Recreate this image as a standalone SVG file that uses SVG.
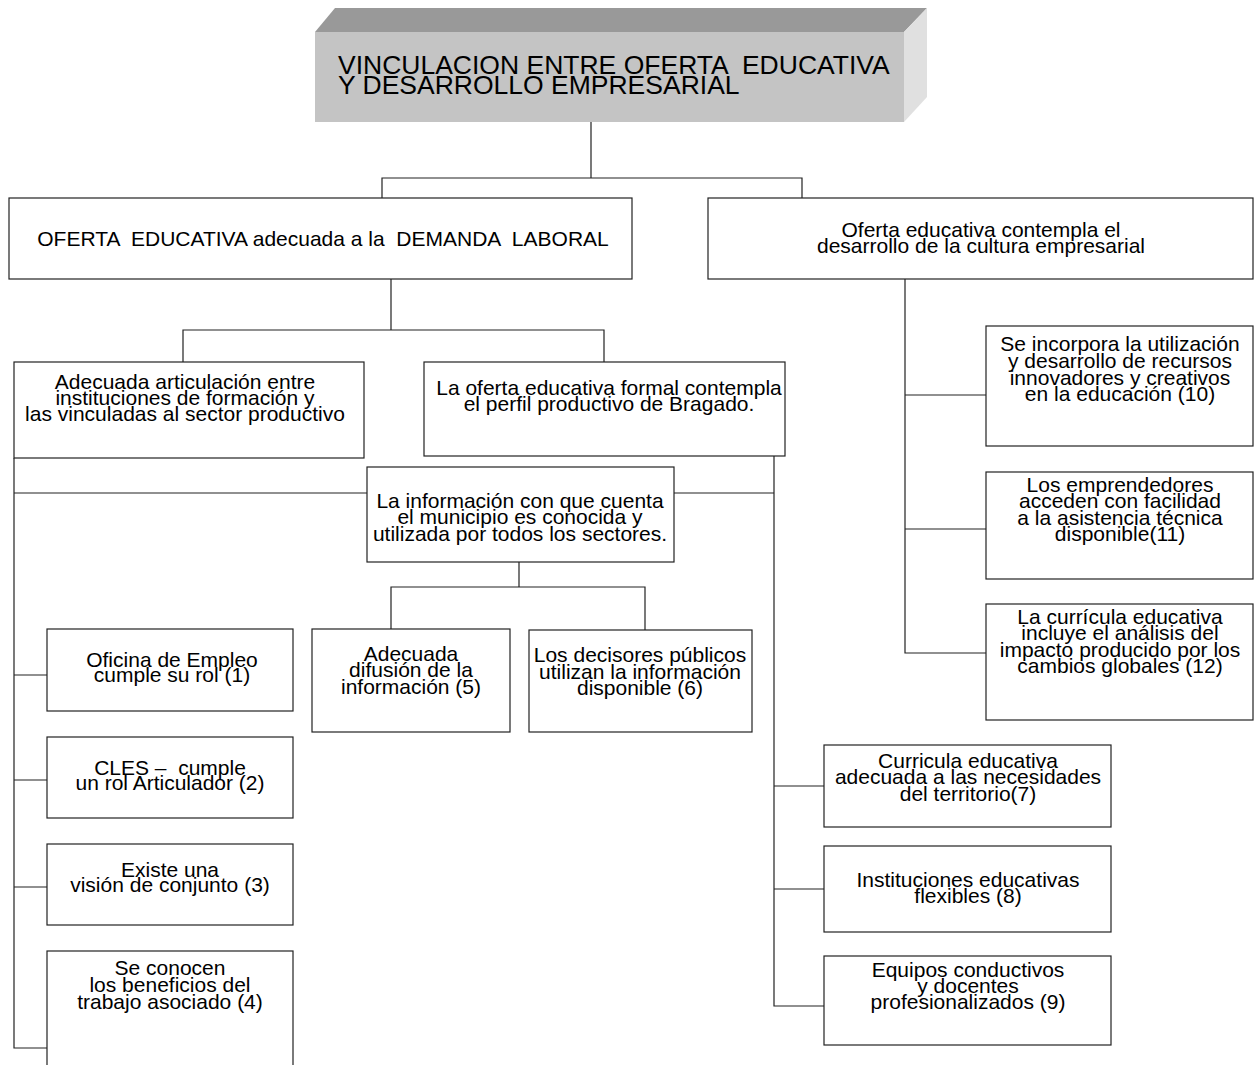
<svg xmlns="http://www.w3.org/2000/svg" width="1255" height="1065" viewBox="0 0 1255 1065">
<style>
.bx{fill:#ffffff;stroke:#222222;stroke-width:1.2}
.cn{fill:none;stroke:#222222;stroke-width:1.2}
.t{font-family:"Liberation Sans",Arial,sans-serif;font-size:21px;fill:#000000;text-anchor:middle}
.tt{font-family:"Liberation Sans",Arial,sans-serif;font-size:26.5px;fill:#000000}
</style>
<rect width="1255" height="1065" fill="#ffffff"/>
<g id="connectors">
<path class="cn" d="M591,122V178M382,198V178H802V198"/>
<path class="cn" d="M391,279V330M183,362V330H604V362"/>
<path class="cn" d="M14,458V1048H47M14,675H47M14,780H47M14,887H47M14,493H367M674,493H774"/>
<path class="cn" d="M774,456V1006H824M774,786H824M774,889H824"/>
<path class="cn" d="M519,562V587M391,629V587H645V630"/>
<path class="cn" d="M905,279V653H986M905,395H986M905,529H986"/>
</g>
<g id="title">
<polygon points="315,32 335,8 927,8 904,32" fill="#999999"/>
<polygon points="904,32 927,8 927,97 904,122" fill="#e0e0e0"/>
<rect x="315" y="32" width="589" height="90" fill="#c4c4c4"/>
<text class="tt" x="338" y="74" xml:space="preserve">VINCULACION ENTRE OFERTA  EDUCATIVA</text>
<text class="tt" x="338" y="94">Y DESARROLLO EMPRESARIAL</text>
</g>
<g id="nodeA">
<rect class="bx" x="9" y="198" width="623" height="81"/>
<text class="t" x="323" y="246" xml:space="preserve">OFERTA  EDUCATIVA adecuada a la  DEMANDA  LABORAL</text>
</g>
<g id="nodeB">
<rect class="bx" x="708" y="198" width="545" height="81"/>
<text class="t" x="981" y="237">Oferta educativa contempla el</text>
<text class="t" x="981" y="253">desarrollo de la cultura empresarial</text>
</g>
<g id="nodeC">
<rect class="bx" x="14" y="362" width="350" height="96"/>
<text class="t" x="185" y="389">Adecuada articulación entre</text>
<text class="t" x="185" y="405">instituciones de formación y</text>
<text class="t" x="185" y="421">las vinculadas al sector productivo</text>
</g>
<g id="nodeD">
<rect class="bx" x="424" y="362" width="361" height="94"/>
<text class="t" x="609" y="395">La oferta educativa formal contempla</text>
<text class="t" x="609" y="411">el perfil productivo de Bragado.</text>
</g>
<g id="nodeE">
<rect class="bx" x="367" y="467" width="307" height="95"/>
<text class="t" x="520" y="508">La información con que cuenta</text>
<text class="t" x="520" y="524">el municipio es conocida y</text>
<text class="t" x="520" y="541">utilizada por todos los sectores.</text>
</g>
<g id="node1">
<rect class="bx" x="47" y="629" width="246" height="82"/>
<text class="t" x="172" y="667">Oficina de Empleo</text>
<text class="t" x="172" y="682">cumple su rol (1)</text>
</g>
<g id="node2">
<rect class="bx" x="47" y="737" width="246" height="81"/>
<text class="t" x="170" y="775" xml:space="preserve">CLES –  cumple</text>
<text class="t" x="170" y="790">un rol Articulador (2)</text>
</g>
<g id="node3">
<rect class="bx" x="47" y="844" width="246" height="81"/>
<text class="t" x="170" y="877">Existe una</text>
<text class="t" x="170" y="892">visión de conjunto (3)</text>
</g>
<g id="node4">
<rect class="bx" x="47" y="951" width="246" height="130"/>
<text class="t" x="170" y="975">Se conocen</text>
<text class="t" x="170" y="992">los beneficios del</text>
<text class="t" x="170" y="1009">trabajo asociado (4)</text>
</g>
<g id="node5">
<rect class="bx" x="312" y="629" width="198" height="103"/>
<text class="t" x="411" y="661">Adecuada</text>
<text class="t" x="411" y="677">difusión de la</text>
<text class="t" x="411" y="694">información (5)</text>
</g>
<g id="node6">
<rect class="bx" x="529" y="630" width="223" height="102"/>
<text class="t" x="640" y="662">Los decisores públicos</text>
<text class="t" x="640" y="679">utilizan la información</text>
<text class="t" x="640" y="695">disponible (6)</text>
</g>
<g id="node7">
<rect class="bx" x="824" y="745" width="287" height="82"/>
<text class="t" x="968" y="768">Curricula educativa</text>
<text class="t" x="968" y="784">adecuada a las necesidades</text>
<text class="t" x="968" y="801">del territorio(7)</text>
</g>
<g id="node8">
<rect class="bx" x="824" y="846" width="287" height="86"/>
<text class="t" x="968" y="887">Instituciones educativas</text>
<text class="t" x="968" y="903">flexibles (8)</text>
</g>
<g id="node9">
<rect class="bx" x="824" y="956" width="287" height="89"/>
<text class="t" x="968" y="977">Equipos conductivos</text>
<text class="t" x="968" y="993">y docentes</text>
<text class="t" x="968" y="1009">profesionalizados (9)</text>
</g>
<g id="node10">
<rect class="bx" x="986" y="326" width="267" height="120"/>
<text class="t" x="1120" y="351">Se incorpora la utilización</text>
<text class="t" x="1120" y="368">y desarrollo de recursos</text>
<text class="t" x="1120" y="385">innovadores y creativos</text>
<text class="t" x="1120" y="401">en la educación (10)</text>
</g>
<g id="node11">
<rect class="bx" x="986" y="472" width="267" height="107"/>
<text class="t" x="1120" y="492">Los emprendedores</text>
<text class="t" x="1120" y="508">acceden con facilidad</text>
<text class="t" x="1120" y="525">a la asistencia técnica</text>
<text class="t" x="1120" y="541">disponible(11)</text>
</g>
<g id="node12">
<rect class="bx" x="986" y="604" width="267" height="116"/>
<text class="t" x="1120" y="624">La currícula educativa</text>
<text class="t" x="1120" y="640">incluye el análisis del</text>
<text class="t" x="1120" y="657">impacto producido por los</text>
<text class="t" x="1120" y="673">cambios globales (12)</text>
</g>
</svg>
